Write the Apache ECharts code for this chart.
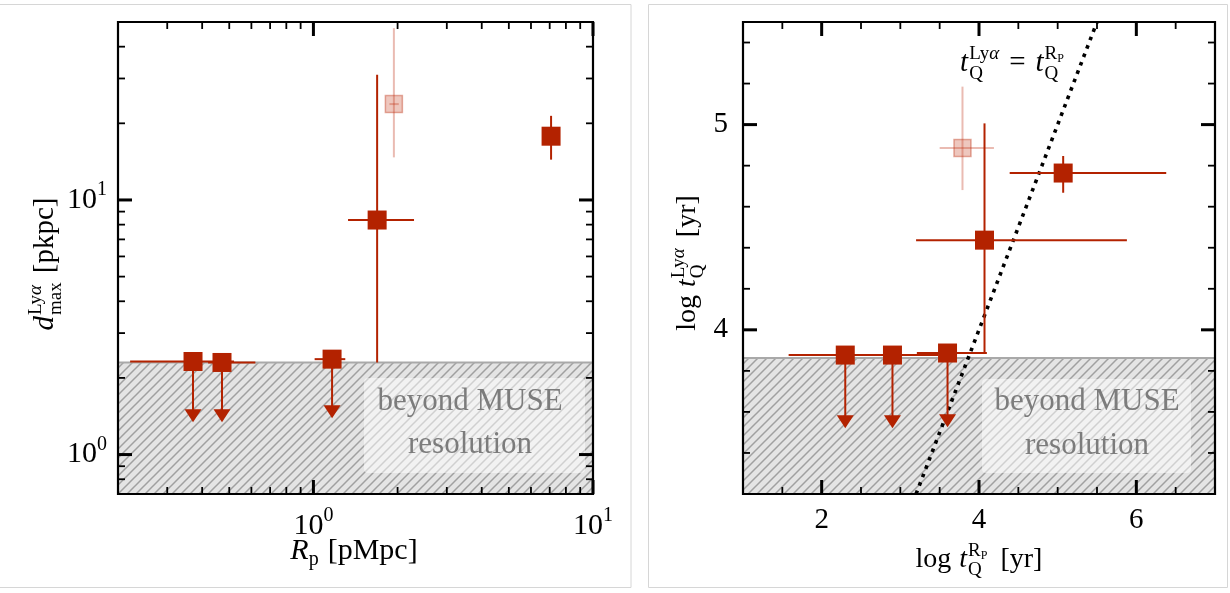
<!DOCTYPE html>
<html>
<head>
<meta charset="utf-8">
<script src="https://cdn.jsdelivr.net/npm/echarts@6/dist/echarts.min.js"></script>
<style>
  html, body { margin: 0; padding: 0; background: #fff; }
  #main { width: 1230px; height: 593px; }
</style>
</head>
<body>
<div id="main"></div>
<script>
// ---- data ----
// left panel: R_p [pMpc] vs d_max [pkpc], log-log
const leftLimX   = [0.371, 0.471, 1.166];
const leftLimY   = [2.32, 2.30, 2.37];
const leftLimXLo = [0.221, 0.42, 1.01];
const leftLimXHi = [0.52, 0.62, 1.30];
const leftLimTip = [1.34, 1.34, 1.39];

const leftDetX   = [1.69, 7.08];
const leftDetY   = [8.34, 17.8];
const leftDetXLo = [1.33, 7.08];
const leftDetXHi = [2.29, 7.08];
const leftDetYLo = [2.3, 14.4];
const leftDetYHi = [31.0, 21.4];

const leftFadX   = [1.94];
const leftFadY   = [23.8];
const leftFadXLo = [1.87];
const leftFadXHi = [2.02];
const leftFadYLo = [14.7];
const leftFadYHi = [47.3];

const leftShade  = 2.3;   // MUSE resolution limit

// right panel: log t_Q^Rp vs log t_Q^Lya
const rightLimX   = [2.30, 2.90, 3.60];
const rightLimY   = [3.877, 3.877, 3.887];
const rightLimXLo = [1.58, 2.30, 3.21];
const rightLimXHi = [3.00, 3.48, 4.10];
const rightLimTip = [3.52, 3.52, 3.525];

const rightDetX   = [4.07, 5.07];
const rightDetY   = [4.437, 4.764];
const rightDetXLo = [3.20, 4.39];
const rightDetXHi = [5.88, 6.38];
const rightDetYLo = [3.884, 4.668];
const rightDetYHi = [5.006, 4.847];

const rightFadX   = [3.79];
const rightFadY   = [4.886];
const rightFadXLo = [3.50];
const rightFadXHi = [4.19];
const rightFadYLo = [4.681];
const rightFadYHi = [5.185];

const rightShade  = 3.863;
const oneToOneX   = [3.2, 5.5];
const oneToOneY   = [3.2, 5.5];

// tick positions
const leftXMajor  = [1, 10];
const leftXMinor  = [0.3, 0.4, 0.5, 0.6, 0.7, 0.8, 0.9, 2, 3, 4, 5, 6, 7, 8, 9];
const leftYMajor  = [1, 10];
const leftYMinor  = [0.8, 0.9, 2, 3, 4, 5, 6, 7, 8, 9, 20, 30, 40];
const rightXMajor = [2, 4, 6];
const rightXMinor = [1.5, 2.5, 3, 3.5, 4.5, 5, 5.5, 6.5];
const rightYMajor = [4, 5];
const rightYMinor = [3.4, 3.6, 3.8, 4.2, 4.4, 4.6, 4.8, 5.2, 5.4];

// ---- helpers ----
const F = '"Liberation Serif", "Times New Roman", serif';
const RED = '#b32200';
const RED_FADE = 'rgba(190,45,15,0.32)';

const mctx = document.createElement('canvas').getContext('2d');
function fontOf(s, it) { return (it ? 'italic ' : '') + s + 'px ' + F; }
function tw(t, s, it) { mctx.font = fontOf(s, it); return mctx.measureText(t).width; }

function textEl(x, base, t, s, it, color) {
  return {
    type: 'text', x: x, y: base - 0.34 * s,
    style: { text: t, font: fontOf(s, it), fill: color || '#000',
      textAlign: 'left', align: 'left', textVerticalAlign: 'middle', verticalAlign: 'middle' }
  };
}

function layout(pieces, x0, base, out) {
  let x = x0;
  pieces.forEach(p => {
    if (p.g) { x += p.g; return; }
    if (p.st) {
      let w = 0;
      p.st.forEach(row => { w = Math.max(w, layout(row.p, x, base + row.dy, out)); });
      x += w;
      return;
    }
    out.push(textEl(x, base + (p.dy || 0), p.t, p.s, p.i));
    x += tw(p.t, p.s, p.i);
  });
  return x - x0;
}

function mathLabel(pieces, cx, base, rot) {
  const w = layout(pieces, 0, 0, []);
  const kids = [];
  layout(pieces, -w / 2, 0, kids);
  return { type: 'group', x: cx, y: base, rotation: rot || 0, z: 20, children: kids };
}

function zip() {
  const cols = Array.from(arguments);
  return cols[0].map((_, i) => cols.map(c => c[i]));
}

// hatch pattern tile
const tile = document.createElement('canvas');
tile.width = 9; tile.height = 9;
(function () {
  const c = tile.getContext('2d');
  c.fillStyle = '#e4e4e4';
  c.fillRect(0, 0, 9, 9);
  c.strokeStyle = '#a0a0a0';
  c.lineWidth = 1.5;
  c.beginPath();
  c.moveTo(-1, 10); c.lineTo(10, -1);
  c.moveTo(-1, 1); c.lineTo(1, -1);
  c.moveTo(8, 10); c.lineTo(10, 8);
  c.stroke();
})();

function shadeRender(params, api) {
  const cs = params.coordSys;
  const top = api.coord([api.value(0), api.value(1)])[1];
  const bottom = cs.y + cs.height;
  return {
    type: 'group',
    children: [
      { type: 'rect', shape: { x: cs.x, y: top, width: cs.width, height: bottom - top },
        style: { fill: { image: tile, repeat: 'repeat' } } },
      { type: 'line', shape: { x1: cs.x, y1: top, x2: cs.x + cs.width, y2: top },
        style: { stroke: '#a9a9a9', lineWidth: 2 } }
    ]
  };
}

function errRender(color) {
  return function (params, api) {
    const c = api.coord([api.value(0), api.value(1)]);
    const xl = api.coord([api.value(2), api.value(1)]);
    const xh = api.coord([api.value(3), api.value(1)]);
    const yl = api.coord([api.value(0), api.value(4)]);
    const yh = api.coord([api.value(0), api.value(5)]);
    const st = { stroke: color, lineWidth: 2 };
    return {
      type: 'group',
      children: [
        { type: 'line', shape: { x1: xl[0], y1: c[1], x2: xh[0], y2: c[1] }, style: st },
        { type: 'line', shape: { x1: c[0], y1: yl[1], x2: c[0], y2: yh[1] }, style: st }
      ]
    };
  };
}

function limRender(params, api) {
  const c = api.coord([api.value(0), api.value(1)]);
  const xl = api.coord([api.value(2), api.value(1)]);
  const xh = api.coord([api.value(3), api.value(1)]);
  const tip = api.coord([api.value(0), api.value(4)]);
  const st = { stroke: RED, lineWidth: 2 };
  const hh = 13, hw = 8.5;
  return {
    type: 'group',
    children: [
      { type: 'line', shape: { x1: xl[0], y1: c[1], x2: xh[0], y2: c[1] }, style: st },
      { type: 'line', shape: { x1: c[0], y1: c[1], x2: c[0], y2: tip[1] - hh + 1 }, style: st },
      { type: 'polygon', shape: { points: [[c[0] - hw, tip[1] - hh], [c[0] + hw, tip[1] - hh], [c[0], tip[1]]] },
        style: { fill: RED } }
    ]
  };
}

// ticks on all four sides + frame
function tickRender(params, api) {
  const cs = params.coordSys;
  const kind = api.value(3);
  if (kind === 2) {
    return { type: 'rect', shape: { x: cs.x, y: cs.y, width: cs.width, height: cs.height },
      style: { fill: 'none', stroke: '#000', lineWidth: 2.2 } };
  }
  const major = api.value(2) === 1;
  const L = major ? 14 : 7;
  const st = { stroke: '#000', lineWidth: major ? 3 : 1.8 };
  const p = api.coord([api.value(0), api.value(1)]);
  if (kind === 0) {
    return { type: 'group', children: [
      { type: 'line', shape: { x1: p[0], y1: cs.y, x2: p[0], y2: cs.y + L }, style: st },
      { type: 'line', shape: { x1: p[0], y1: cs.y + cs.height, x2: p[0], y2: cs.y + cs.height - L }, style: st }
    ] };
  }
  return { type: 'group', children: [
    { type: 'line', shape: { x1: cs.x, y1: p[1], x2: cs.x + L, y2: p[1] }, style: st },
    { type: 'line', shape: { x1: cs.x + cs.width, y1: p[1], x2: cs.x + cs.width - L, y2: p[1] }, style: st }
  ] };
}

function tickData(xMaj, xMin, yMaj, yMin, xRef, yRef) {
  const d = [];
  xMaj.forEach(v => d.push([v, yRef, 1, 0]));
  xMin.forEach(v => d.push([v, yRef, 0, 0]));
  yMaj.forEach(v => d.push([xRef, v, 1, 1]));
  yMin.forEach(v => d.push([xRef, v, 0, 1]));
  d.push([xRef, yRef, 0, 2]);
  return d;
}

const powRich = {
  b: { fontSize: 30, fontFamily: F, color: '#000' },
  s: { fontSize: 20, fontFamily: F, color: '#000', padding: [0, 0, 20, 0] }
};
function powLabel(v) {
  const l = Math.log10(v);
  const e = Math.round(l);
  if (Math.abs(l - e) > 1e-6) return '';
  return '{b|10}{s|' + e + '}';
}

const squareStyle = { color: RED, opacity: 1 };
const fadeStyle = { color: 'rgba(200,70,40,0.3)', borderColor: 'rgba(190,50,20,0.4)', borderWidth: 1.5, opacity: 1 };

const chart = echarts.init(document.getElementById('main'));

chart.setOption({
  animation: false,
  backgroundColor: '#fff',
  grid: [
    { left: 118, top: 22, width: 475, height: 472 },
    { left: 743, top: 22, width: 472, height: 472 }
  ],
  xAxis: [
    { gridIndex: 0, type: 'log', logBase: 10, min: 0.2, max: 10,
      axisLine: { show: false }, axisTick: { show: false }, splitLine: { show: false },
      axisLabel: { margin: 12, showMinLabel: false, formatter: powLabel, rich: powRich } },
    { gridIndex: 1, type: 'value', min: 1, max: 7, interval: 1,
      axisLine: { show: false }, axisTick: { show: false }, splitLine: { show: false },
      axisLabel: { margin: 12, fontSize: 29, fontFamily: F, color: '#000',
        formatter: v => (Math.round(v) % 2 === 0 ? String(Math.round(v)) : '') } }
  ],
  yAxis: [
    { gridIndex: 0, type: 'log', logBase: 10, min: 0.7, max: 50,
      axisLine: { show: false }, axisTick: { show: false }, splitLine: { show: false },
      axisLabel: { margin: 11, showMinLabel: false, showMaxLabel: false, formatter: powLabel, rich: powRich } },
    { gridIndex: 1, type: 'value', min: 3.2, max: 5.5, interval: 0.1,
      axisLine: { show: false }, axisTick: { show: false }, splitLine: { show: false },
      axisLabel: { margin: 15, fontSize: 29, fontFamily: F, color: '#000',
        formatter: v => (Math.abs(v - Math.round(v)) < 1e-6 ? String(Math.round(v)) : '') } }
  ],
  series: [
    // shaded "beyond MUSE resolution" areas
    { type: 'custom', xAxisIndex: 0, yAxisIndex: 0, z: 1, renderItem: shadeRender,
      encode: { x: 0, y: 1 }, data: [[1, leftShade]] },
    { type: 'custom', xAxisIndex: 1, yAxisIndex: 1, z: 1, renderItem: shadeRender,
      encode: { x: 0, y: 1 }, data: [[4, rightShade]] },
    // one-to-one line
    { type: 'line', xAxisIndex: 1, yAxisIndex: 1, z: 3, symbol: 'none', silent: true,
      data: zip(oneToOneX, oneToOneY),
      lineStyle: { color: '#000', width: 3.6, type: [3.6, 5.4] } },
    // left panel
    { type: 'custom', xAxisIndex: 0, yAxisIndex: 0, z: 4, renderItem: errRender(RED_FADE),
      encode: { x: [0, 2, 3], y: [1, 4, 5] },
      data: zip(leftFadX, leftFadY, leftFadXLo, leftFadXHi, leftFadYLo, leftFadYHi) },
    { type: 'scatter', xAxisIndex: 0, yAxisIndex: 0, z: 5, symbol: 'rect', symbolSize: 17,
      itemStyle: fadeStyle, data: zip(leftFadX, leftFadY) },
    { type: 'custom', xAxisIndex: 0, yAxisIndex: 0, z: 4, renderItem: errRender(RED),
      encode: { x: [0, 2, 3], y: [1, 4, 5] },
      data: zip(leftDetX, leftDetY, leftDetXLo, leftDetXHi, leftDetYLo, leftDetYHi) },
    { type: 'custom', xAxisIndex: 0, yAxisIndex: 0, z: 4, renderItem: limRender,
      encode: { x: [0, 2, 3], y: [1, 4] },
      data: zip(leftLimX, leftLimY, leftLimXLo, leftLimXHi, leftLimTip) },
    { type: 'scatter', xAxisIndex: 0, yAxisIndex: 0, z: 5, symbol: 'rect', symbolSize: 19,
      itemStyle: squareStyle,
      data: zip(leftDetX, leftDetY).concat(zip(leftLimX, leftLimY)) },
    // right panel
    { type: 'custom', xAxisIndex: 1, yAxisIndex: 1, z: 4, renderItem: errRender(RED_FADE),
      encode: { x: [0, 2, 3], y: [1, 4, 5] },
      data: zip(rightFadX, rightFadY, rightFadXLo, rightFadXHi, rightFadYLo, rightFadYHi) },
    { type: 'scatter', xAxisIndex: 1, yAxisIndex: 1, z: 5, symbol: 'rect', symbolSize: 17,
      itemStyle: fadeStyle, data: zip(rightFadX, rightFadY) },
    { type: 'custom', xAxisIndex: 1, yAxisIndex: 1, z: 4, renderItem: errRender(RED),
      encode: { x: [0, 2, 3], y: [1, 4, 5] },
      data: zip(rightDetX, rightDetY, rightDetXLo, rightDetXHi, rightDetYLo, rightDetYHi) },
    { type: 'custom', xAxisIndex: 1, yAxisIndex: 1, z: 4, renderItem: limRender,
      encode: { x: [0, 2, 3], y: [1, 4] },
      data: zip(rightLimX, rightLimY, rightLimXLo, rightLimXHi, rightLimTip) },
    { type: 'scatter', xAxisIndex: 1, yAxisIndex: 1, z: 5, symbol: 'rect', symbolSize: 19,
      itemStyle: squareStyle,
      data: zip(rightDetX, rightDetY).concat(zip(rightLimX, rightLimY)) },
    // ticks and frames
    { type: 'custom', xAxisIndex: 0, yAxisIndex: 0, z: 10, renderItem: tickRender, clip: false,
      encode: { x: 0, y: 1 },
      data: tickData(leftXMajor, leftXMinor, leftYMajor, leftYMinor, 1, 1) },
    { type: 'custom', xAxisIndex: 1, yAxisIndex: 1, z: 10, renderItem: tickRender, clip: false,
      encode: { x: 0, y: 1 },
      data: tickData(rightXMajor, rightXMinor, rightYMajor, rightYMinor, 4, 4) }
  ],
  graphic: [
    // panel frames
    { type: 'rect', z: 0, shape: { x: -1, y: 4.5, width: 632, height: 583 },
      style: { fill: 'none', stroke: '#d6d6d6', lineWidth: 1 } },
    { type: 'rect', z: 0, shape: { x: 648.5, y: 4.5, width: 579, height: 583 },
      style: { fill: 'none', stroke: '#d6d6d6', lineWidth: 1 } },
    // annotation boxes
    { type: 'rect', z: 2, shape: { x: 364, y: 378, width: 221, height: 95, r: 4 },
      style: { fill: 'rgba(255,255,255,0.5)' } },
    { type: 'text', z: 3, x: 470, y: 402,
      style: { text: 'beyond MUSE', font: '31px ' + F, fill: '#7c7c7c',
        textAlign: 'center', align: 'center', textVerticalAlign: 'middle', verticalAlign: 'middle' } },
    { type: 'text', z: 3, x: 470, y: 445,
      style: { text: 'resolution', font: '31px ' + F, fill: '#7c7c7c',
        textAlign: 'center', align: 'center', textVerticalAlign: 'middle', verticalAlign: 'middle' } },
    { type: 'rect', z: 2, shape: { x: 982, y: 379, width: 209, height: 94, r: 4 },
      style: { fill: 'rgba(255,255,255,0.5)' } },
    { type: 'text', z: 3, x: 1087, y: 402,
      style: { text: 'beyond MUSE', font: '31px ' + F, fill: '#7c7c7c',
        textAlign: 'center', align: 'center', textVerticalAlign: 'middle', verticalAlign: 'middle' } },
    { type: 'text', z: 3, x: 1087, y: 446,
      style: { text: 'resolution', font: '31px ' + F, fill: '#7c7c7c',
        textAlign: 'center', align: 'center', textVerticalAlign: 'middle', verticalAlign: 'middle' } },
    // axis titles
    mathLabel([{ t: 'R', s: 30, i: 1 }, { t: 'p', s: 20, dy: 6 }, { g: 9 }, { t: '[pMpc]', s: 30 }], 354, 561),
    mathLabel([{ t: 'd', s: 29, i: 1 }, { g: 1 },
      { st: [{ dy: -13, p: [{ t: 'Ly', s: 19 }, { t: 'α', s: 19, i: 1 }] }, { dy: 7, p: [{ t: 'max', s: 19 }] }] },
      { g: 9 }, { t: '[pkpc]', s: 29 }], 55, 264, Math.PI / 2),
    mathLabel([{ t: 'log', s: 28 }, { g: 8 }, { t: 't', s: 28, i: 1 }, { g: 1 },
      { st: [{ dy: -12, p: [{ t: 'R', s: 19 }, { t: 'P', s: 12, dy: 3 }] }, { dy: 7, p: [{ t: 'Q', s: 19 }] }] },
      { g: 13 }, { t: '[yr]', s: 28 }], 979, 569),
    mathLabel([{ t: 'log', s: 28 }, { g: 8 }, { t: 't', s: 28, i: 1 }, { g: 1 },
      { st: [{ dy: -12, p: [{ t: 'Ly', s: 19 }, { t: 'α', s: 19, i: 1 }] }, { dy: 7, p: [{ t: 'Q', s: 19 }] }] },
      { g: 11 }, { t: '[yr]', s: 28 }], 697, 263, Math.PI / 2),
    // one-to-one line label
    mathLabel([{ t: 't', s: 29, i: 1 }, { g: 1 },
      { st: [{ dy: -13, p: [{ t: 'Ly', s: 19 }, { t: 'α', s: 19, i: 1 }] }, { dy: 7, p: [{ t: 'Q', s: 19 }] }] },
      { g: 10 }, { t: '=', s: 29 }, { g: 10 }, { t: 't', s: 29, i: 1 }, { g: 1 },
      { st: [{ dy: -13, p: [{ t: 'R', s: 19 }, { t: 'P', s: 12, dy: 3 }] }, { dy: 7, p: [{ t: 'Q', s: 19 }] }] }],
      1012, 73)
  ]
});
</script>
</body>
</html>
